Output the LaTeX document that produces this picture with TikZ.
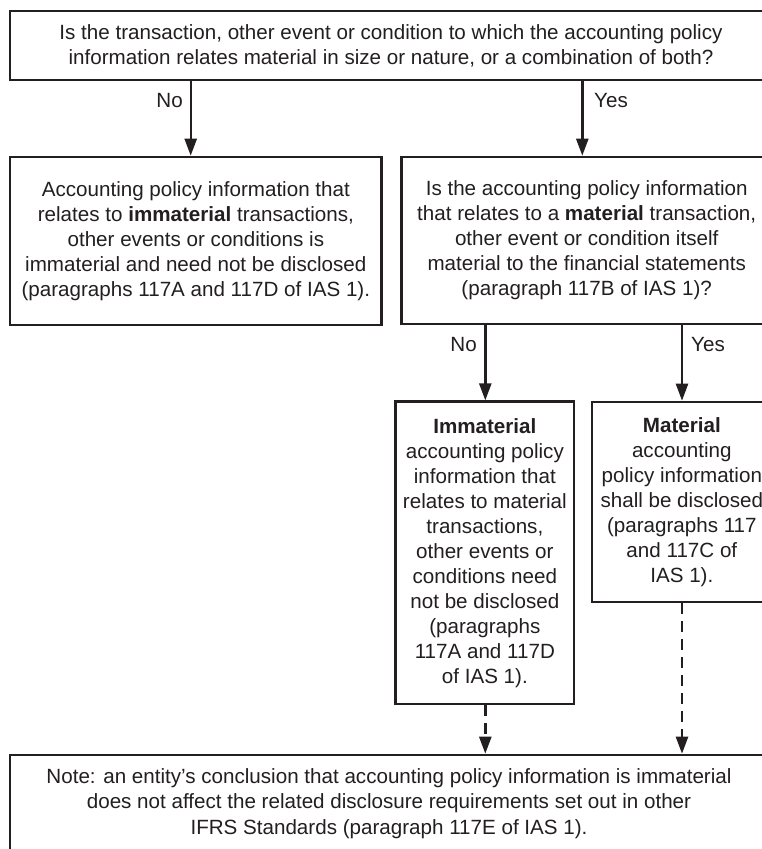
\documentclass[tikz,border=0pt]{standalone}
\usepackage{fontspec}
\setmainfont{Liberation Sans}
\usetikzlibrary{arrows.meta}
\definecolor{ink}{HTML}{231F20}
\tikzset{
  box/.style={draw=ink, line width=2.6pt, inner sep=0pt, align=center, text=ink,
    font=\fontsize{20.6}{25}\selectfont},
  txt/.style={inner sep=0pt, align=center, text=ink, font=\fontsize{20.6}{25.5}\selectfont},
  lbl/.style={inner sep=0pt, text=ink, font=\fontsize{20.6}{25}\selectfont},
  arr/.style={draw=ink, line width=2.4pt, -{Triangle[width=12pt,length=17pt]}},
  darr/.style={arr, dash pattern=on 11pt off 7pt},
}
\begin{document}
\begin{tikzpicture}[x=1pt,y=-1pt]
\useasboundingbox (0,0) rectangle (761,849);
\fill[white] (0,0) rectangle (761,849);

\node[box, minimum width=762pt, minimum height=69pt] (top) at (391,45.5)
  {Is the transaction, other event or condition to which the accounting policy\\
   information relates material in size or nature, or a combination of both?};

\node[box, minimum width=371.7pt, minimum height=168pt] (imm) at (195.85,241)
  {Accounting policy information that\\
   relates to \textbf{immaterial} transactions,\\
   other events or conditions is\\
   immaterial and need not be disclosed\\
   (paragraphs 117A and 117D of IAS 1).};

\node[box, minimum width=370pt, minimum height=167pt] (q2) at (586.7,240.5)
  {Is the accounting policy information\\
   that relates to a \textbf{material} transaction,\\
   other event or condition itself\\
   material to the financial statements\\
   (paragraph 117B of IAS 1)?};

\node[box, minimum width=178.3pt, minimum height=302.3pt] (immpol) at (484.85,552.85)
  {\textbf{Immaterial}\\
   accounting policy\\
   information that\\
   relates to material\\
   transactions,\\
   other events or\\
   conditions need\\
   not be disclosed\\
   (paragraphs\\
   117A and 117D\\
   of IAS 1).};

\node[box, minimum width=179.7pt, minimum height=200pt] (matpol) at (681.85,502)
  {\textbf{Material}\\
   accounting\\
   policy information\\
   shall be disclosed\\
   (paragraphs 117\\
   and 117C of\\
   IAS 1).};

\node[box, minimum width=762pt, minimum height=145pt] (note) at (391,827.5) {};
\node[txt] (notetxt) at (389,803.5)
  {Note: an entity’s conclusion that accounting policy information is immaterial\\
   does not affect the related disclosure requirements set out in other\\
   IFRS Standards (paragraph 117E of IAS 1).};

\coordinate (c1) at (190.7,0);
\coordinate (c2) at (582.3,0);
\coordinate (c3) at (485.3,0);
\coordinate (c4) at (682,0);

\draw[arr] (top.south -| c1) -- (imm.north -| c1);
\draw[arr] (top.south -| c2) -- (q2.north -| c2);
\draw[arr] (q2.south -| c3) -- (immpol.north -| c3);
\draw[arr] (q2.south -| c4) -- (matpol.north -| c4);
\draw[darr] (immpol.south -| c3) -- (note.north -| c3);
\draw[darr] (matpol.south -| c4) -- (note.north -| c4);

\node[lbl, anchor=east] (no1) at (183,101) {No};
\node[lbl, anchor=west] (yes1) at (594,101) {Yes};
\node[lbl, anchor=east] (no2) at (477,345) {No};
\node[lbl, anchor=west] (yes2) at (691,345) {Yes};
\end{tikzpicture}
\end{document}
